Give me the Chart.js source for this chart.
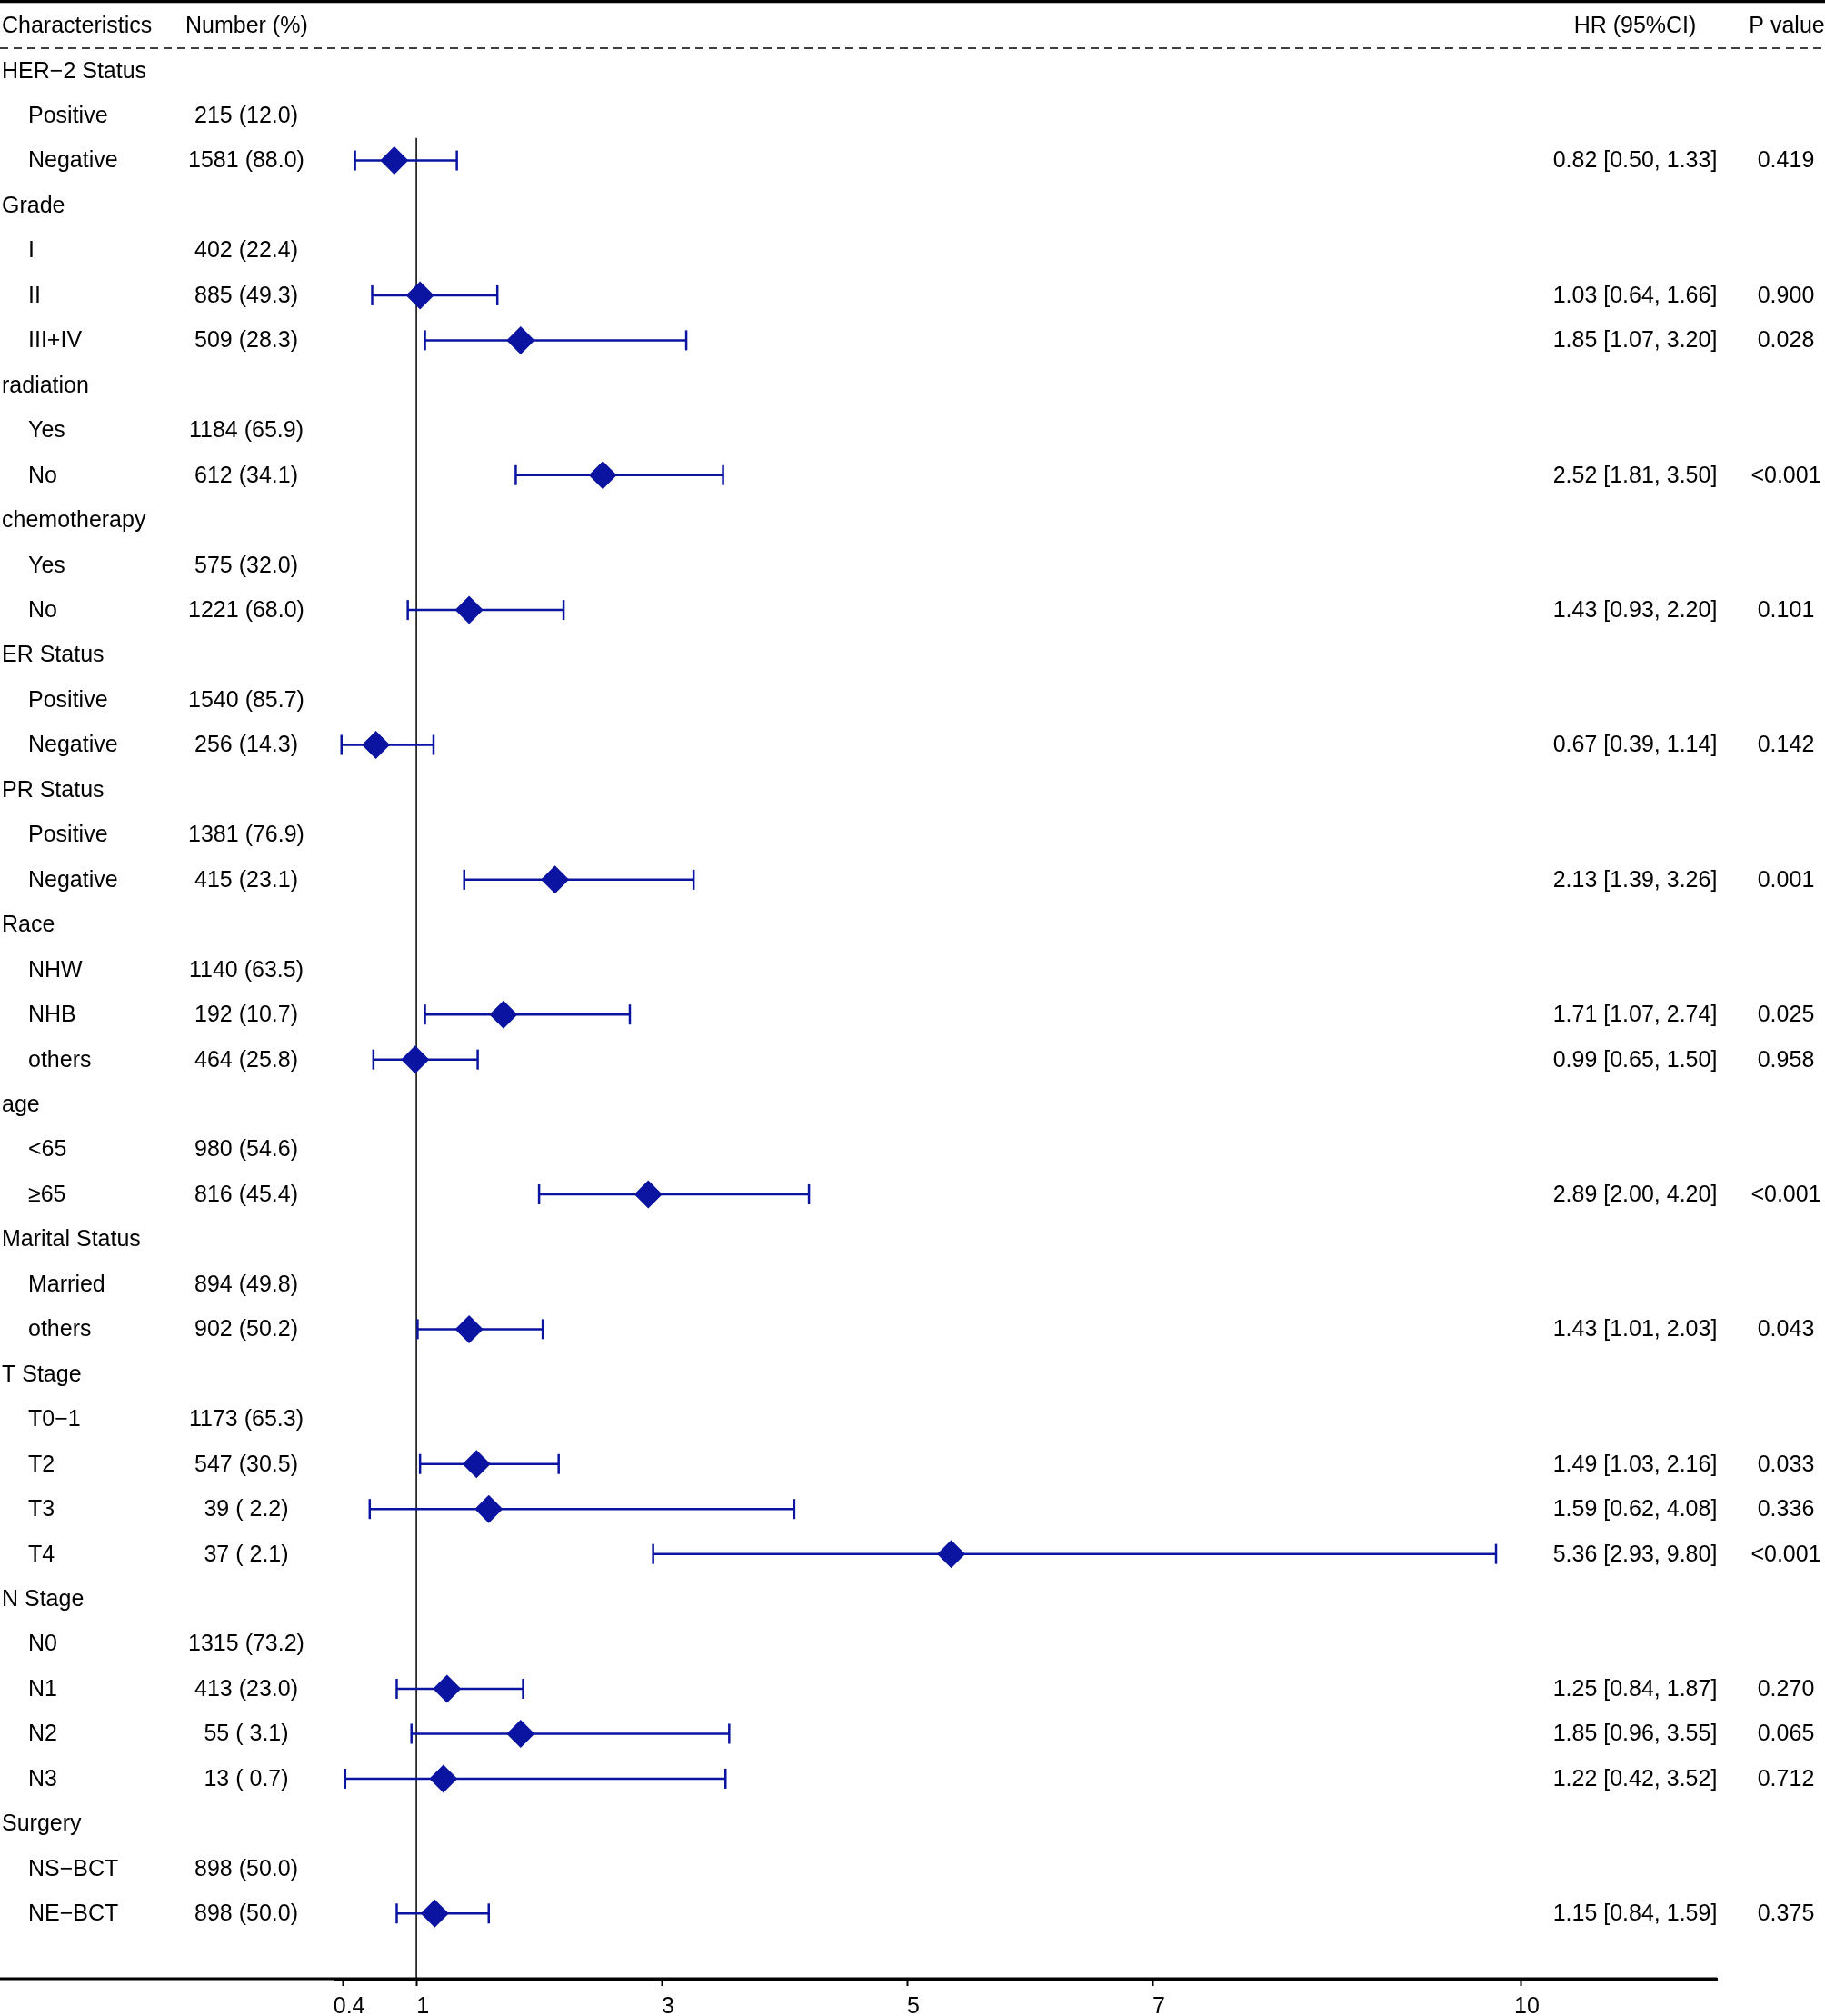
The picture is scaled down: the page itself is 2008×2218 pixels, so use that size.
<!DOCTYPE html>
<html>
<head>
<meta charset="utf-8">
<script src="https://cdn.jsdelivr.net/npm/chart.js@4/dist/chart.umd.min.js"></script>
<style>
  html, body { margin: 0; padding: 0; background: #fff; }
  #wrap { width: 2008px; height: 2218px; position: relative; }
</style>
</head>
<body>
<div id="wrap"><canvas id="forest"></canvas></div>
<script>
// table rows, top to bottom
const labels = ["HER−2 Status", "Positive", "Negative", "Grade", "I", "II", "III+IV",
  "radiation", "Yes", "No", "chemotherapy", "Yes", "No", "ER Status", "Positive", "Negative",
  "PR Status", "Positive", "Negative", "Race", "NHW", "NHB", "others", "age", "<65", "≥65",
  "Marital Status", "Married", "others", "T Stage", "T0−1", "T2", "T3", "T4",
  "N Stage", "N0", "N1", "N2", "N3", "Surgery", "NS−BCT", "NE−BCT"];
const counts = [null, 215, 1581, null, 402, 885, 509, null, 1184, 612, null, 575, 1221,
  null, 1540, 256, null, 1381, 415, null, 1140, 192, 464, null, 980, 816, null, 894, 902,
  null, 1173, 547, 39, 37, null, 1315, 413, 55, 13, null, 898, 898];
const percents = [null, 12.0, 88.0, null, 22.4, 49.3, 28.3, null, 65.9, 34.1, null, 32.0, 68.0,
  null, 85.7, 14.3, null, 76.9, 23.1, null, 63.5, 10.7, 25.8, null, 54.6, 45.4, null, 49.8, 50.2,
  null, 65.3, 30.5, 2.2, 2.1, null, 73.2, 23.0, 3.1, 0.7, null, 50.0, 50.0];

// rows that carry an estimate
const estRows = [2, 5, 6, 9, 12, 15, 18, 21, 22, 25, 28, 31, 32, 33, 36, 37, 38, 41];
const hr = [0.82, 1.03, 1.85, 2.52, 1.43, 0.67, 2.13, 1.71, 0.99, 2.89, 1.43, 1.49, 1.59, 5.36, 1.25, 1.85, 1.22, 1.15];
const ciLow = [0.50, 0.64, 1.07, 1.81, 0.93, 0.39, 1.39, 1.07, 0.65, 2.00, 1.01, 1.03, 0.62, 2.93, 0.84, 0.96, 0.42, 0.84];
const ciHigh = [1.33, 1.66, 3.20, 3.50, 2.20, 1.14, 3.26, 2.74, 1.50, 4.20, 2.03, 2.16, 4.08, 9.80, 1.87, 3.55, 3.52, 1.59];
const pValues = ["0.419", "0.900", "0.028", "<0.001", "0.101", "0.142", "0.001", "0.025", "0.958",
  "<0.001", "0.043", "0.033", "0.336", "<0.001", "0.270", "0.065", "0.712", "0.375"];

const headers = ["Characteristics", "Number (%)", "HR (95%CI)", "P value"];
const xTicks = [0.4, 1, 3, 5, 7, 10];

const BLUE = "#0a14a0";
const FONT = "25px 'Liberation Sans', Arial, sans-serif";

const fmtNumber = (i) => `${counts[i]} (${percents[i].toFixed(1).padStart(4, " ")})`;
const fmtHR = (k) => `${hr[k].toFixed(2)} [${ciLow[k].toFixed(2)}, ${ciHigh[k].toFixed(2)}]`;

const diamonds = estRows.map((row, k) => ({ x: hr[k], y: row }));
const caps = estRows.flatMap((row, k) => [{ x: ciLow[k], y: row }, { x: ciHigh[k], y: row }]);
const whiskers = estRows.flatMap((row, k) => [
  { x: ciLow[k], y: row },
  { x: ciHigh[k], y: row },
  { x: ciHigh[k], y: null },
]);

const tablePlugin = {
  id: "tableText",
  afterDraw(chart) {
    const { ctx, scales, chartArea, width } = chart;
    const y = scales.y;
    const rowY = (v) => y.getPixelForValue(v) + 1;
    ctx.save();

    // rules: thick top, dashed under header, thick bottom
    ctx.strokeStyle = "#000";
    ctx.lineWidth = 3.5;
    ctx.beginPath();
    ctx.moveTo(0, 1.5);
    ctx.lineTo(width, 1.5);
    ctx.stroke();

    ctx.lineWidth = 1.5;
    ctx.setLineDash([9, 6]);
    ctx.beginPath();
    ctx.moveTo(0, y.getPixelForValue(-0.5));
    ctx.lineTo(width, y.getPixelForValue(-0.5));
    ctx.stroke();
    ctx.setLineDash([]);

    ctx.lineWidth = 3;
    ctx.beginPath();
    ctx.moveTo(0, chartArea.bottom);
    ctx.lineTo(chartArea.right, chartArea.bottom);
    ctx.stroke();

    ctx.fillStyle = "#000";
    ctx.font = FONT;
    ctx.textBaseline = "middle";

    const hy = rowY(-1);
    ctx.textAlign = "left";
    ctx.fillText(headers[0], 2, hy);
    ctx.fillText(headers[1], 204, hy);
    ctx.textAlign = "center";
    ctx.fillText(headers[2], 1799, hy);
    ctx.fillText(headers[3], 1966, hy);

    labels.forEach((label, i) => {
      const py = rowY(i);
      const isGroup = counts[i] === null;
      ctx.textAlign = "left";
      ctx.fillText(label, isGroup ? 2 : 31, py);
      if (!isGroup) {
        ctx.textAlign = "center";
        ctx.fillText(fmtNumber(i), 271, py);
      }
    });

    estRows.forEach((row, k) => {
      const py = rowY(row);
      ctx.textAlign = "center";
      ctx.fillText(fmtHR(k), 1799, py);
      ctx.fillText(pValues[k], 1965, py);
    });

    ctx.restore();
  },
};

new Chart(document.getElementById("forest"), {
  type: "scatter",
  data: {
    datasets: [
      {
        data: diamonds,
        pointStyle: "rectRot",
        pointRadius: 15.5,
        pointHoverRadius: 15.5,
        backgroundColor: BLUE,
        borderColor: BLUE,
        borderWidth: 0,
      },
      {
        data: caps,
        pointStyle: "line",
        rotation: 90,
        pointRadius: 11,
        pointHoverRadius: 11,
        borderColor: BLUE,
        borderWidth: 2.5,
      },
      {
        type: "line",
        data: whiskers,
        borderColor: BLUE,
        borderWidth: 2.5,
        pointRadius: 0,
        spanGaps: false,
        fill: false,
      },
      {
        type: "line",
        data: [{ x: 1, y: 1.5 }, { x: 1, y: 42.5 }],
        borderColor: "#000",
        borderWidth: 1.5,
        pointRadius: 0,
        fill: false,
      },
    ],
  },
  options: {
    responsive: true,
    maintainAspectRatio: false,
    animation: false,
    devicePixelRatio: 1,
    layout: { autoPadding: false, padding: { left: 369, right: 119, top: 1, bottom: 0 } },
    plugins: { legend: { display: false }, tooltip: { enabled: false } },
    scales: {
      x: {
        type: "linear",
        min: 0.34,
        max: 11.6,
        afterBuildTicks: (scale) => {
          scale.ticks = xTicks.map((v) => ({ value: v }));
        },
        afterFit: (scale) => {
          scale.height = 41;
        },
        ticks: {
          autoSkip: false,
          maxRotation: 0,
          padding: 8,
          labelOffset: 7,
          color: "#000",
          font: { family: "'Liberation Sans', Arial, sans-serif", size: 25 },
          callback: (v) => String(v),
        },
        grid: {
          display: true,
          drawOnChartArea: false,
          drawTicks: true,
          tickLength: 8,
          tickWidth: 2,
          tickColor: "#000",
        },
        border: { display: true, width: 3, color: "#000" },
      },
      y: {
        type: "linear",
        display: false,
        reverse: true,
        min: -1.55,
        max: 42.45,
      },
    },
  },
  plugins: [tablePlugin],
});
</script>
</body>
</html>
